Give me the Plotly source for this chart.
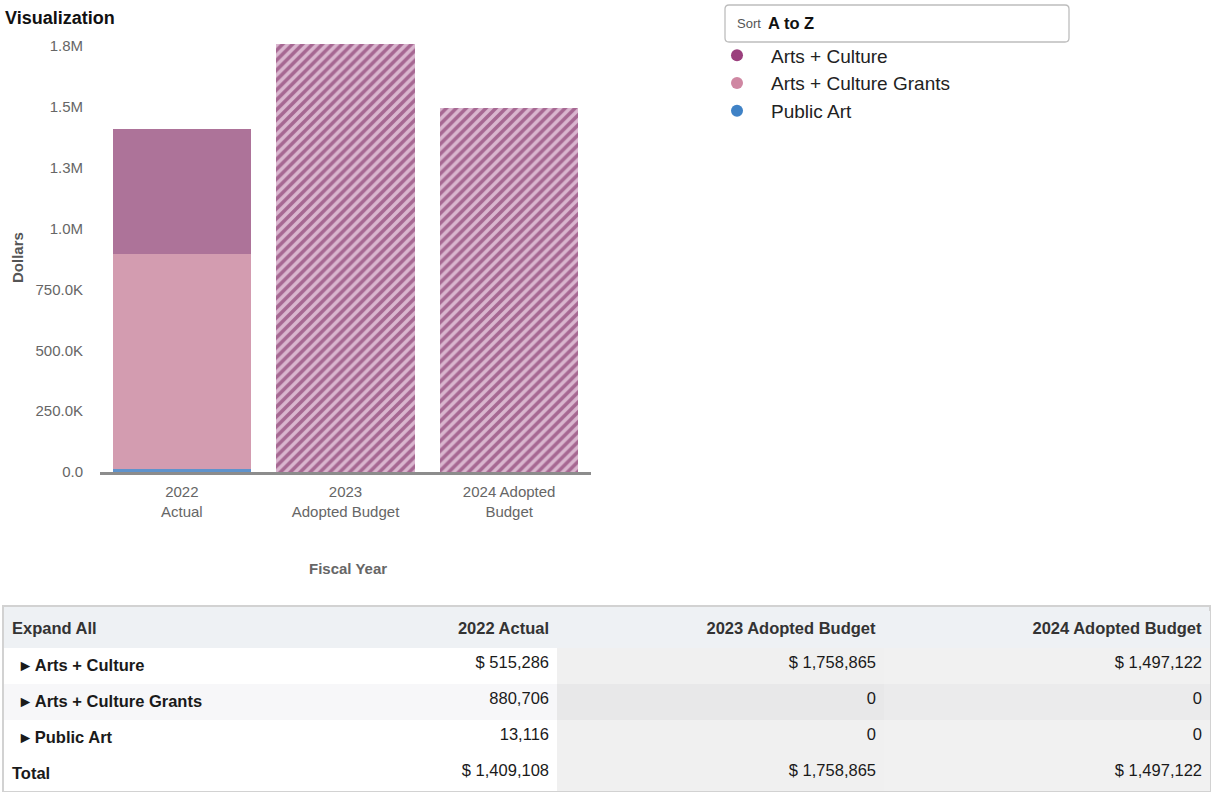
import plotly.graph_objects as go

# ---------------- data ----------------
categories = ["2022<br>Actual", "2023<br>Adopted Budget", "2024 Adopted<br>Budget"]
table_years = ["2022 Actual", "2023 Adopted Budget", "2024 Adopted Budget"]
series_names = ["Arts + Culture", "Arts + Culture Grants", "Public Art"]
arts_culture = [515286, 1758865, 1497122]
arts_culture_grants = [880706, 0, 0]
public_art = [13116, 0, 0]
y_tickvals = [0, 250000, 500000, 750000, 1000000, 1250000, 1500000, 1750000]
y_ticktext = ["0.0", "250.0K", "500.0K", "750.0K", "1.0M", "1.3M", "1.5M", "1.8M"]

# ---------------- styling ----------------
W, H = 1212, 792
FONT = "Liberation Sans, Arial, Helvetica, sans-serif"


def px(x):
    return x / W


def py(y):
    return 1 - y / H


bar_colors = ["#ad7399", "#d39cb0", "#5f93cc"]
legend_colors = ["#9b3f7d", "#cf87a2", "#3f82c6"]
hatch_shape = ["", "/", "/"]

fig = go.Figure()

fig.add_trace(go.Bar(x=categories, y=public_art, name=series_names[2],
                     marker=dict(color=bar_colors[2], line=dict(width=0)),
                     showlegend=False))
fig.add_trace(go.Bar(x=categories, y=arts_culture_grants, name=series_names[1],
                     marker=dict(color=bar_colors[1], line=dict(width=0)),
                     showlegend=False))
fig.add_trace(go.Bar(x=categories, y=arts_culture, name=series_names[0],
                     marker=dict(color=bar_colors[0], line=dict(width=0),
                                 pattern=dict(shape=hatch_shape, fgcolor="#dab6cf",
                                              bgcolor="#a66792", size=7,
                                              solidity=0.5, fillmode="replace")),
                     showlegend=False))

for name, col in zip(series_names, legend_colors):
    fig.add_trace(go.Scatter(x=[None], y=[None], mode="markers", name=name,
                             marker=dict(size=12, color=col), showlegend=True))

totals = [a + b + c for a, b, c in zip(arts_culture, arts_culture_grants, public_art)]


def money(v):
    return f"$ {v:,}"


def plain(v):
    return f"{v:,}"


label_col = ["<b>\u00a0\u00a0\u25b8\u00a0" + n + "</b>" for n in series_names] + ["<b>Total</b>"]
value_cols = []
for i in range(3):
    value_cols.append([money(arts_culture[i]), plain(arts_culture_grants[i]),
                       plain(public_art[i]), money(totals[i])])

fills = [
    ["#ffffff", "#f7f7f9", "#ffffff", "#ffffff"],
    ["#ffffff", "#f7f7f9", "#ffffff", "#ffffff"],
    ["#f0f0f0", "#e8e8e9", "#f0f0f0", "#f0f0f0"],
    ["#f1f1f1", "#ebebec", "#f1f1f1", "#f1f1f1"],
]

TABLE_TOP = 611
fig.add_trace(go.Table(
    domain=dict(x=[px(4), px(1210)], y=[0, py(TABLE_TOP)]),
    columnwidth=[226, 327, 327, 326],
    header=dict(values=["<b>Expand All</b>"] + ["<b>" + t + "</b>" for t in table_years],
                align=["left", "right", "right", "right"],
                fill=dict(color="#eef1f4"),
                font=dict(family=FONT, size=16.5, color="#333333"),
                height=37, line=dict(width=0, color="#eef1f4")),
    cells=dict(values=[label_col] + value_cols,
               align=["left", "right", "right", "right"],
               fill=dict(color=fills),
               font=dict(family=FONT, size=16.5, color="#1a1a1a"),
               height=36, line=dict(width=0, color="#ffffff")),
))

x0, x1, y0, y1, r = 725, 1069, 5, 42, 4
path = (f"M {px(x0 + r)},{py(y0)} L {px(x1 - r)},{py(y0)} "
        f"Q {px(x1)},{py(y0)} {px(x1)},{py(y0 + r)} L {px(x1)},{py(y1 - r)} "
        f"Q {px(x1)},{py(y1)} {px(x1 - r)},{py(y1)} L {px(x0 + r)},{py(y1)} "
        f"Q {px(x0)},{py(y1)} {px(x0)},{py(y1 - r)} L {px(x0)},{py(y0 + r)} "
        f"Q {px(x0)},{py(y0)} {px(x0 + r)},{py(y0)} Z")

fig.update_layout(
    width=W, height=H, autosize=False,
    margin=dict(l=0, r=0, t=0, b=0, autoexpand=False),
    paper_bgcolor="white", plot_bgcolor="white",
    font=dict(family=FONT, color="#666666"),
    barmode="stack", bargap=0.156,
    showlegend=True,
    legend=dict(x=px(703), y=py(36.5), xanchor="left", yanchor="top",
                font=dict(family=FONT, size=19, color="#222222"),
                itemwidth=58, tracegroupgap=0, bgcolor="rgba(0,0,0,0)",
                traceorder="normal"),
    xaxis=dict(domain=[px(100), px(591)], range=[-0.5, 2.5],
               showline=True, linecolor="#8c8c8c", linewidth=3,
               ticks="outside", ticklen=4, tickcolor="rgba(0,0,0,0)",
               tickfont=dict(family=FONT, size=15, color="#666666"),
               showgrid=False, zeroline=False, fixedrange=True),
    yaxis=dict(domain=[py(472), py(33.83)], range=[0, 1800000],
               tickvals=y_tickvals, ticktext=y_ticktext,
               ticks="outside", ticklen=13, tickcolor="rgba(0,0,0,0)",
               tickfont=dict(family=FONT, size=15, color="#666666"),
               showgrid=False, zeroline=False, showline=False, fixedrange=True),
    shapes=[
        dict(type="path", xref="paper", yref="paper", path=path,
             line=dict(color="#bdbdbd", width=1.3), fillcolor="white", layer="below"),
        dict(type="rect", xref="paper", yref="paper", x0=px(4), x1=px(1210),
             y0=py(TABLE_TOP + 1), y1=py(606.5), line=dict(width=0),
             fillcolor="#eef1f4", layer="below"),
        dict(type="rect", xref="paper", yref="paper", x0=px(3), x1=px(1210),
             y0=0, y1=py(606), line=dict(color="#d2d2d2", width=2),
             fillcolor="rgba(0,0,0,0)", layer="below"),
    ],
    annotations=[
        dict(text="<b>Visualization</b>", x=px(3), y=py(18), xref="paper", yref="paper",
             xanchor="left", yanchor="middle", showarrow=False,
             font=dict(family=FONT, size=18, color="#111111")),
        dict(text="<b>Dollars</b>", x=px(18), y=py(258), xref="paper", yref="paper",
             xanchor="center", yanchor="middle", showarrow=False, textangle=-90,
             font=dict(family=FONT, size=15, color="#555555")),
        dict(text="<b>Fiscal Year</b>", x=px(348), y=py(568), xref="paper", yref="paper",
             xanchor="center", yanchor="middle", showarrow=False,
             font=dict(family=FONT, size=15, color="#666666")),
        dict(text="Sort", x=px(735), y=py(23.5), xref="paper", yref="paper",
             xanchor="left", yanchor="middle", showarrow=False,
             font=dict(family=FONT, size=13, color="#555555")),
        dict(text="<b>A to Z</b>", x=px(766), y=py(23), xref="paper", yref="paper",
             xanchor="left", yanchor="middle", showarrow=False,
             font=dict(family=FONT, size=16.5, color="#111111")),
    ],
)

fig.write_html("out.html")
